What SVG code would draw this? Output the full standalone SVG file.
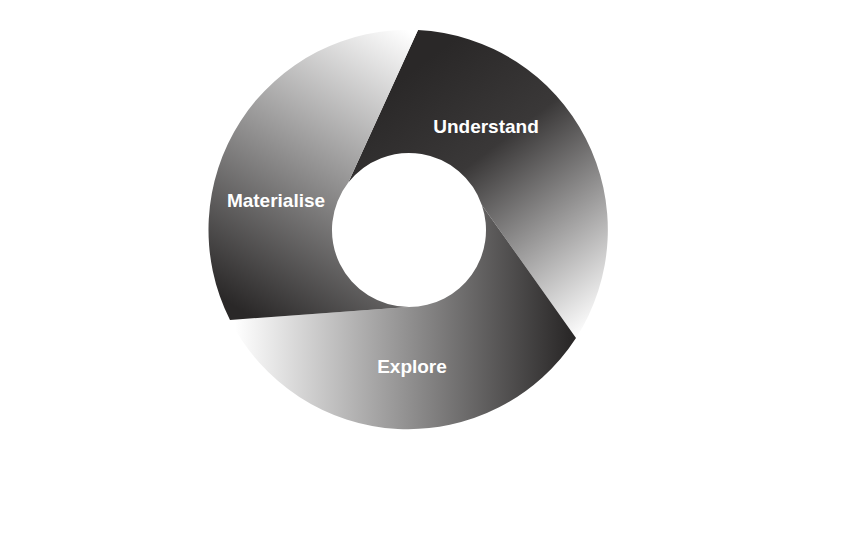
<svg xmlns="http://www.w3.org/2000/svg" width="851" height="546" viewBox="0 0 851 546">
<style>.lbl{font-family:"Liberation Sans",Arial,sans-serif;font-weight:bold;font-size:19px;fill:#fff;text-anchor:middle}</style>
<defs>
<linearGradient id="gU" gradientUnits="userSpaceOnUse" x1="400" y1="80" x2="590" y2="330"><stop offset="0" stop-color="#2a2828"/><stop offset="0.35" stop-color="#3a3838"/><stop offset="1" stop-color="#ffffff"/></linearGradient>
<linearGradient id="gE" gradientUnits="userSpaceOnUse" x1="570" y1="330" x2="235" y2="330"><stop offset="0" stop-color="#2a2828"/><stop offset="1" stop-color="#ffffff"/></linearGradient>
<linearGradient id="gM" gradientUnits="userSpaceOnUse" x1="240" y1="310" x2="415" y2="35"><stop offset="0" stop-color="#2a2828"/><stop offset="1" stop-color="#ffffff"/></linearGradient>
</defs>
<rect width="851" height="546" fill="#fff"/>
<g id="understand"><path d="M418,30 A200,200 0 0 1 576,338 L481.8,204.9 A77,77 0 0 0 348.3,182.6 Z" fill="url(#gU)"/><text class="lbl" x="486" y="133">Understand</text></g>
<g id="explore"><path d="M576,338 A200,200 0 0 1 230,320 L409,307 A77,77 0 0 0 481.8,204.9 Z" fill="url(#gE)"/><text class="lbl" x="412" y="373">Explore</text></g>
<g id="materialise"><path d="M230,320 A200,200 0 0 1 418,30 L348.3,182.6 A77,77 0 0 0 409,307 Z" fill="url(#gM)"/><text class="lbl" x="276" y="207">Materialise</text></g>
<g id="connectors"/>
</svg>
